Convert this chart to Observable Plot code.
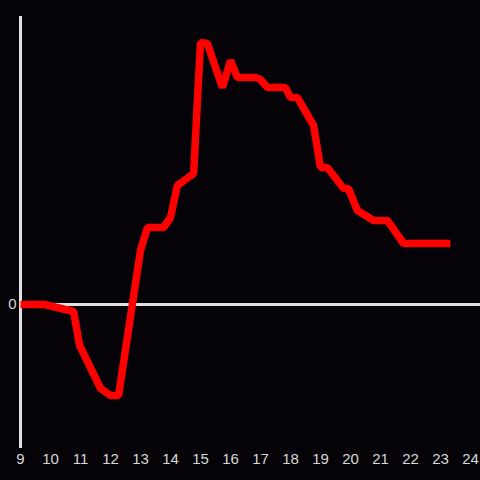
<!DOCTYPE html>
<html>
<head>
<meta charset="utf-8">
<script src="https://cdn.jsdelivr.net/npm/d3@7"></script>
<script src="https://cdn.jsdelivr.net/npm/@observablehq/plot@0.6"></script>
<style>
html,body{margin:0;padding:0;background:#050307;}
</style>
</head>
<body>
<div id="chart"></div>
<script>
const hours = [9.0, 9.8, 10.77, 10.97, 11.67, 12.0, 12.27, 13.0, 13.23, 13.77, 14.0, 14.23, 14.77, 15.0, 15.23, 15.73, 16.0, 16.23, 16.83, 17.0, 17.23, 17.83, 18.0, 18.23, 18.77, 19.0, 19.23, 19.77, 19.93, 20.23, 20.77, 21.23, 21.77, 23.33];
const values = [0, 0, -7, -41, -84, -91, -91, 54, 77, 77, 87, 119, 131, 262, 261, 217, 244, 227, 227, 225, 217, 217, 207, 207, 179, 137, 137, 116, 116, 94, 84, 84, 61, 61];
const xTicks = [9,10,11,12,13,14,15,16,17,18,19,20,21,22,23,24];
const yTicks = [0];

const data = hours.map((h, i) => ({h, v: values[i]}));

const chart = Plot.plot({
  width: 480,
  height: 480,
  marginTop: 16,
  marginBottom: 32,
  marginLeft: 20,
  marginRight: 10,
  style: {background: "#050307", color: "#d8d8d8", fontFamily: "Liberation Sans, Arial, sans-serif", overflow: "visible"},
  x: {domain: [9, 24]},
  y: {domain: [-144, 288]},
  marks: [
    Plot.axisX(xTicks, {tickSize: 0, tickPadding: 5, tickFormat: d => String(d), label: null, fontSize: 15}),
    Plot.axisY(yTicks, {tickSize: 0, tickPadding: 4, label: null, fontSize: 15}),
    Plot.ruleX([9], {stroke: "#e0e0e0", strokeWidth: 3}),
    Plot.ruleY([0], {stroke: "#e0e0e0", strokeWidth: 3, x1: 9, x2: 24.4}),
    Plot.line(data, {x: "h", y: "v", stroke: "#ff0000", strokeWidth: 7.5, strokeLinejoin: "miter", strokeLinecap: "butt"})
  ]
});
document.getElementById("chart").appendChild(chart);
</script>
</body>
</html>
